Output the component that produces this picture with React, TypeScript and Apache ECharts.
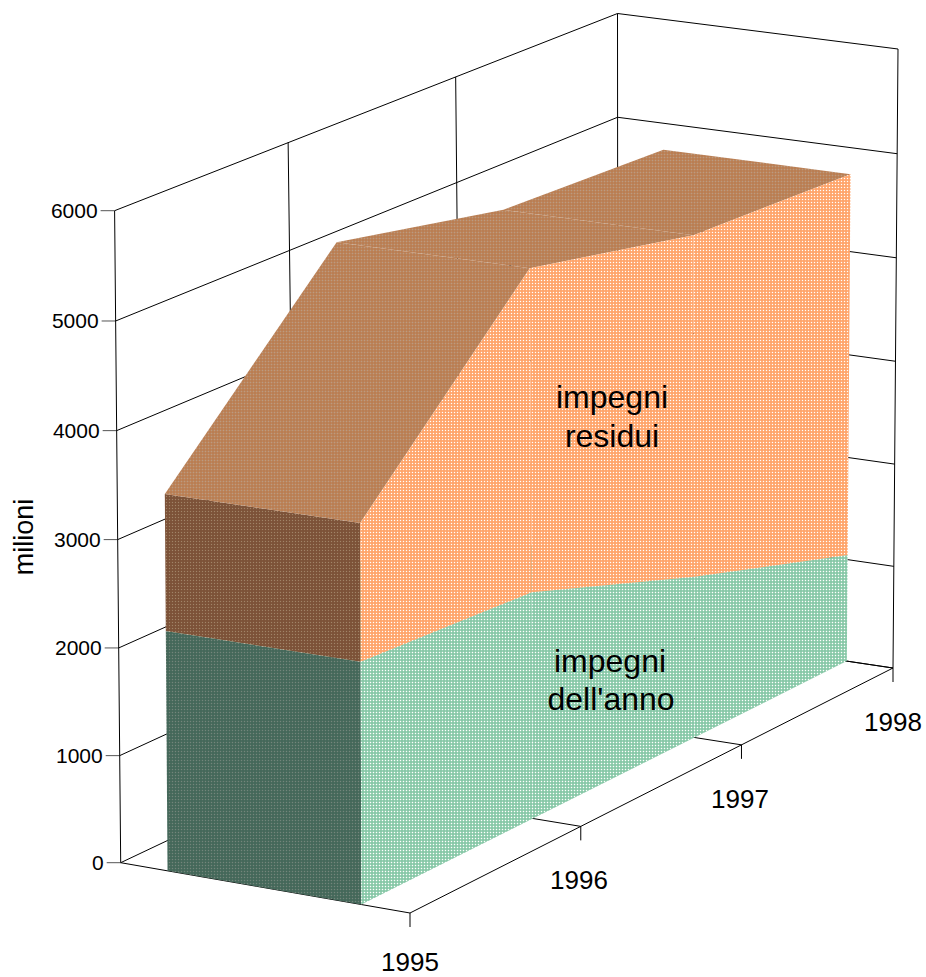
import React, { useEffect, useRef } from "react";
import * as echarts from "echarts";

const years = ["1995", "1996", "1997", "1998"];
const impegniAnno = [2225, 2130, 1550, 1045];
const impegniResidui = [1260, 3005, 3250, 3700];
const valueTicks = [0, 1000, 2000, 3000, 4000, 5000, 6000];
const MAX_VALUE = 6000;

type P = [number, number];
// box corners on screen: (year 0 / depth 0), (year 1 / depth 0), (year 1 / depth 1), (year 0 / depth 1)
const floorQuad: P[] = [[410, 913], [893, 668], [618, 627], [120.7, 862.7]];
const ceilQuad: P[] = [[408, 249], [898, 49], [617.5, 13.5], [114.6, 210.7]];
const DEPTH_FRONT = 0.165;
const DEPTH_BACK = 0.835;

function homography(q: P[]) {
  const [[x0, y0], [x1, y1], [x2, y2], [x3, y3]] = q;
  const dx1 = x1 - x2, dx2 = x3 - x2, sx = x0 - x1 + x2 - x3;
  const dy1 = y1 - y2, dy2 = y3 - y2, sy = y0 - y1 + y2 - y3;
  const den = dx1 * dy2 - dx2 * dy1;
  const g = (sx * dy2 - dx2 * sy) / den;
  const h = (dx1 * sy - sx * dy1) / den;
  const a = x1 - x0 + g * x1, b = x3 - x0 + h * x3;
  const d = y1 - y0 + g * y1, e = y3 - y0 + h * y3;
  return (u: number, v: number): P => {
    const w = g * u + h * v + 1;
    return [(a * u + b * v + x0) / w, (d * u + e * v + y0) / w];
  };
}
const floorH = homography(floorQuad);
const ceilH = homography(ceilQuad);

// t: year position 0..1, depth: 0 front .. 1 back, value: data value
function project(t: number, depth: number, value: number): P {
  const f = floorH(t, depth);
  const c = ceilH(t, depth);
  const s = value / MAX_VALUE;
  const k = s / (s + (1 - s) * 1.018);
  return [f[0] + (c[0] - f[0]) * k, f[1] + (c[1] - f[1]) * k];
}

function tile(base: string, dot: string, mid: string) {
  const cv = document.createElement("canvas");
  cv.width = 3;
  cv.height = 3;
  const ctx = cv.getContext("2d")!;
  ctx.fillStyle = base;
  ctx.fillRect(0, 0, 3, 3);
  ctx.fillStyle = mid;
  ctx.fillRect(1, 0, 1, 3);
  ctx.fillRect(0, 1, 3, 1);
  ctx.fillStyle = dot;
  ctx.fillRect(1, 1, 1, 1);
  return { image: cv, repeat: "repeat" };
}

const FONT = "'Liberation Sans', Arial, sans-serif";

export default function App() {
  const ref = useRef<HTMLDivElement>(null);
  useEffect(() => {
    const chart = echarts.init(ref.current!, undefined, { renderer: "svg" });
    const fills = {
      greenFront: tile("#88c8a8", "#ffffff", "#9cd2b6"),
      greenEnd: tile("#44685a", "#72867c", "#4c6c5e"),
      orangeFront: tile("#ffa56c", "#ffffff", "#ffb07c"),
      orangeEnd: tile("#7c5238", "#a08468", "#80563c"),
      orangeTop: tile("#b97e54", "#b89a84", "#bd865c"),
    };
    const n = years.length;
    const tOf = (i: number) => i / (n - 1);

    const face = (api: any, pts: P[], fill: any) => ({
      type: "polygon",
      shape: { points: pts.map((p) => api.coord(p)) },
      style: { fill },
      silent: true,
    });

    const totals = impegniAnno.map((v, i) => v + impegniResidui[i]);
    const layerLo = [impegniAnno.map(() => 0), impegniAnno];
    const layerHi = [impegniAnno, totals];

    const layerItem = (front: any, end: any, top: any) => (params: any, api: any) => {
      const i = params.dataIndex;
      const t0 = tOf(api.value(0));
      const lo = api.value(1);
      const hi = api.value(2);
      const children: any[] = [];
      if (i === 0) {
        children.push(
          face(api, [
            project(t0, DEPTH_FRONT, lo),
            project(t0, DEPTH_BACK, lo),
            project(t0, DEPTH_BACK, hi),
            project(t0, DEPTH_FRONT, hi),
          ], end),
        );
      }
      if (i < n - 1) {
        const t1 = tOf(i + 1);
        const lo1 = layerLo[params.seriesIndex - 1][i + 1];
        const hi1 = layerHi[params.seriesIndex - 1][i + 1];
        children.push(
          face(api, [
            project(t0, DEPTH_FRONT, hi),
            project(t1, DEPTH_FRONT, hi1),
            project(t1, DEPTH_BACK, hi1),
            project(t0, DEPTH_BACK, hi),
          ], top),
          face(api, [
            project(t0, DEPTH_FRONT, lo),
            project(t1, DEPTH_FRONT, lo1),
            project(t1, DEPTH_FRONT, hi1),
            project(t0, DEPTH_FRONT, hi),
          ], front),
        );
      }
      return { type: "group", children };
    };

    const text = (api: any, s: string, x: number, y: number, size: number, align = "center", rotation = 0) => {
      const c = api.coord([x, y]);
      return {
        type: "text",
        x: c[0],
        y: c[1],
        rotation,
        style: {
          text: s,
          fontFamily: FONT,
          fontSize: size,
          fill: "#000",
          align,
          verticalAlign: "middle",
        },
        silent: true,
      };
    };

    const renderFrame = (_p: any, api: any) => {
      const lineStyle = { stroke: "#000", lineWidth: 1, fill: "none" };
      const line = (a: P, b: P, style: any = lineStyle) => {
        const pa = api.coord(a);
        const pb = api.coord(b);
        return {
          type: "line",
          shape: { x1: pa[0], y1: pa[1], x2: pb[0], y2: pb[1] },
          style,
          silent: true,
        };
      };
      const ch: any[] = [];
      // horizontal grid on the two walls, y-axis ticks and labels
      valueTicks.forEach((v) => {
        const a = project(0, 1, v);
        ch.push(line(a, project(1, 1, v)));
        ch.push(line(project(1, 1, v), project(1, 0, v)));
        ch.push(line([a[0] - 14, a[1]], a, { stroke: "#555", lineWidth: 1, fill: "none" }));
        ch.push(text(api, String(v), a[0] - 17, a[1], 21, "right"));
      });
      // vertical grid of the walls, floor grid, x ticks
      years.forEach((y, i) => {
        const t = tOf(i);
        ch.push(line(project(t, 1, 0), project(t, 1, MAX_VALUE)));
        ch.push(line(project(t, 0, 0), project(t, 1, 0)));
        const b = project(t, 0, 0);
        ch.push(line(b, [b[0], b[1] + 14]));
      });
      ch.push(line(project(1, 0, 0), project(1, 0, MAX_VALUE)));
      ch.push(line(project(0, 0, 0), project(1, 0, 0)));
      return { type: "group", children: ch };
    };

    const renderLabels = (_p: any, api: any) => ({
      type: "group",
      children: [
        text(api, "milioni", 24, 537, 27, "center", Math.PI / 2),
        text(api, "impegni", 612, 397, 32),
        text(api, "residui", 612, 436, 32),
        text(api, "impegni", 610, 661, 32),
        text(api, "dell'anno", 611, 699, 32),
        text(api, years[0], 410, 962, 26),
        text(api, years[1], 579, 880, 26),
        text(api, years[2], 740, 799, 26),
        text(api, years[3], 893, 722, 26),
      ],
    });

    const rows = (lo: number[], hi: number[]) => years.map((_, i) => [i, lo[i], hi[i]]);

    chart.setOption({
      animation: false,
      backgroundColor: "#fff",
      grid: { left: 0, right: 0, top: 0, bottom: 0 },
      xAxis: { type: "value", min: 0, max: 926, show: false },
      yAxis: { type: "value", min: 0, max: 977, inverse: true, show: false },
      series: [
        { type: "custom", name: "griglia", renderItem: renderFrame, data: [[0, 0, 0]], z: 1, clip: false, silent: true },
        {
          type: "custom",
          name: "impegni dell'anno",
          renderItem: layerItem(fills.greenFront, fills.greenEnd, fills.greenFront),
          data: rows(layerLo[0], layerHi[0]),
          encode: { x: 0, y: 0 },
          z: 2,
          silent: true,
        },
        {
          type: "custom",
          name: "impegni residui",
          renderItem: layerItem(fills.orangeFront, fills.orangeEnd, fills.orangeTop),
          data: rows(layerLo[1], layerHi[1]),
          encode: { x: 0, y: 0 },
          z: 3,
          silent: true,
        },
        { type: "custom", name: "etichette", renderItem: renderLabels, data: [[0, 0, 0]], z: 4, clip: false, silent: true },
      ],
    });
    return () => chart.dispose();
  }, []);
  return <div ref={ref} style={{ position: "absolute", left: 0, top: 0, width: 926, height: 977 }} />;
}
